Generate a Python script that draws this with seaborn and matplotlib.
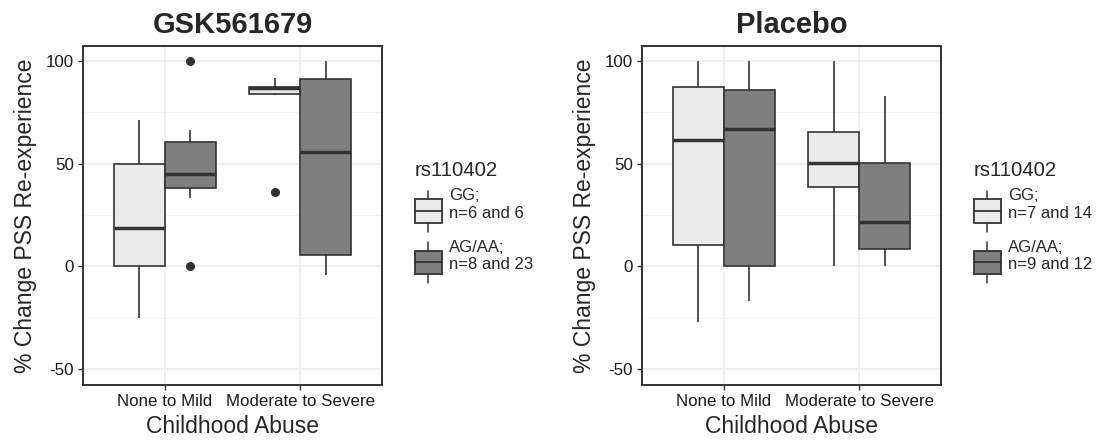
import numpy as np
import pandas as pd
import matplotlib
matplotlib.use("Agg")
import matplotlib.pyplot as plt
import seaborn as sns
from matplotlib.patches import Patch, Rectangle
from matplotlib.lines import Line2D
from matplotlib.legend_handler import HandlerBase

# ---- data (box summaries per group) ----
abuse_levels = ["None to Mild", "Moderate to Severe"]
genotypes = ["GG", "AG/AA"]
# group order: (None/GG, None/AG, Moderate/GG, Moderate/AG)
group_abuse = ["None to Mild", "None to Mild", "Moderate to Severe", "Moderate to Severe"]
group_geno = ["GG", "AG/AA", "GG", "AG/AA"]

gsk_low = [-25, 33.3, 83.3, -4]
gsk_q1 = [0, 38.1, 84.1, 5.4]
gsk_med = [18.8, 45.1, 86.8, 55.7]
gsk_q3 = [50, 60.4, 87.5, 91.2]
gsk_high = [71.3, 66.4, 91.6, 100]
gsk_outliers = [[], [0, 100], [36.4], []]
gsk_labels = ["GG;\nn=6 and 6", "AG/AA;\nn=8 and 23"]

pla_low = [-27, -16.7, 0, 0]
pla_q1 = [10.2, 0, 38.8, 8.6]
pla_med = [61.5, 66.7, 50.2, 21.8]
pla_q3 = [87.3, 85.9, 65.4, 50.2]
pla_high = [100, 100, 100, 83.1]
pla_outliers = [[], [], [], []]
pla_labels = ["GG;\nn=7 and 14", "AG/AA;\nn=9 and 12"]

fills = {"GG": "#EBEBEB", "AG/AA": "#7F7F7F"}
edge = "#333333"

sns.set_theme(style="white")
plt.rcParams["font.family"] = ["Liberation Sans", "DejaVu Sans"]
plt.rcParams["axes.unicode_minus"] = False


def build_table(low, q1, med, q3, high, outliers):
    # nine values per group so that numpy quartiles land on q1/med/q3
    rows = []
    for i in range(len(low)):
        lo_out = [o for o in outliers[i] if o < med[i]]
        hi_out = [o for o in outliers[i] if o > med[i]]
        vals = [lo_out[0] if lo_out else low[i], low[i], q1[i], q1[i], med[i],
                q3[i], q3[i], high[i], hi_out[0] if hi_out else high[i]]
        for v in vals:
            rows.append({"abuse": group_abuse[i], "geno": group_geno[i], "change": v})
    return pd.DataFrame(rows)


class BoxKey(HandlerBase):
    # ggplot-like boxplot legend key
    def create_artists(self, legend, orig_handle, xdescent, ydescent,
                       width, height, fontsize, trans):
        x0 = -xdescent
        shift = -3.5
        span = height * 0.82
        y0 = -ydescent + (height - span) / 2 + shift
        bh = height * 0.48
        by = -ydescent + (height - bh) / 2 + shift
        cx = x0 + width / 2
        w1 = Line2D([cx, cx], [y0, by], color=edge, lw=1.1, transform=trans)
        w2 = Line2D([cx, cx], [by + bh, y0 + span], color=edge, lw=1.1, transform=trans)
        rect = Rectangle((x0, by), width, bh, facecolor=orig_handle.get_facecolor(),
                         edgecolor=edge, lw=1.3, transform=trans)
        med = Line2D([x0, x0 + width], [by + bh / 2] * 2, color=edge, lw=1.3, transform=trans)
        return [w1, w2, rect, med]


fig = plt.figure(figsize=(11.05, 4.41), dpi=100)
W, H = 1105, 441
ax_l = fig.add_axes([83 / W, (H - 385) / H, 299 / W, 339 / H])
ax_r = fig.add_axes([642 / W, (H - 385) / H, 299 / W, 339 / H])

panels = [
    (ax_l, "GSK561679", build_table(gsk_low, gsk_q1, gsk_med, gsk_q3, gsk_high, gsk_outliers), gsk_labels),
    (ax_r, "Placebo", build_table(pla_low, pla_q1, pla_med, pla_q3, pla_high, pla_outliers), pla_labels),
]

for ax, title, df, labels in panels:
    sns.boxplot(data=df, x="abuse", y="change", hue="geno", order=abuse_levels,
                hue_order=genotypes, palette=fills, saturation=1, width=0.75,
                linecolor=edge, linewidth=1.2, whis=1.5, showcaps=False,
                medianprops={"linewidth": 2.5, "color": edge},
                flierprops={"marker": "o", "markerfacecolor": edge,
                            "markeredgecolor": edge, "markersize": 5.5},
                legend=False, ax=ax, zorder=3)
    ax.set_xlim(-0.6, 1.6)
    ax.set_ylim(-57.8, 107.3)
    ax.set_yticks([-50, 0, 50, 100])
    ax.set_yticks([-25, 25, 75], minor=True)
    ax.set_axisbelow(True)
    ax.grid(True, which="major", color="#EBEBEB", lw=1.1, zorder=0)
    ax.grid(True, which="minor", axis="y", color="#F4F4F4", lw=0.7, zorder=0)
    ax.tick_params(which="major", direction="out", length=3.6, width=1.0,
                   color=edge, labelsize=12.2, labelcolor="#1a1a1a",
                   left=True, bottom=True, pad=3)
    ax.tick_params(which="minor", length=0)
    for s in ax.spines.values():
        s.set_color(edge)
        s.set_linewidth(1.4)
    ax.set_title(title, fontsize=21, fontweight="bold", pad=9.5)
    ax.set_xlabel("Childhood Abuse", fontsize=16.5, labelpad=4)
    ax.set_ylabel("% Change PSS Re-experience", fontsize=16.5, labelpad=6)

    handles = [Patch(facecolor=fills[g]) for g in genotypes]
    off = (33 - 6.7) / 299
    ax.legend(handles, labels, title="rs110402", loc="center left",
              bbox_to_anchor=(1 + off, 0.482), borderaxespad=0, frameon=False,
              fontsize=12, title_fontsize=14.7, handlelength=1.62,
              handleheight=4.2, handletextpad=0.42, labelspacing=0.1,
              alignment="left", handler_map={Patch: BoxKey()})

fig.savefig("out.png", dpi=100)
